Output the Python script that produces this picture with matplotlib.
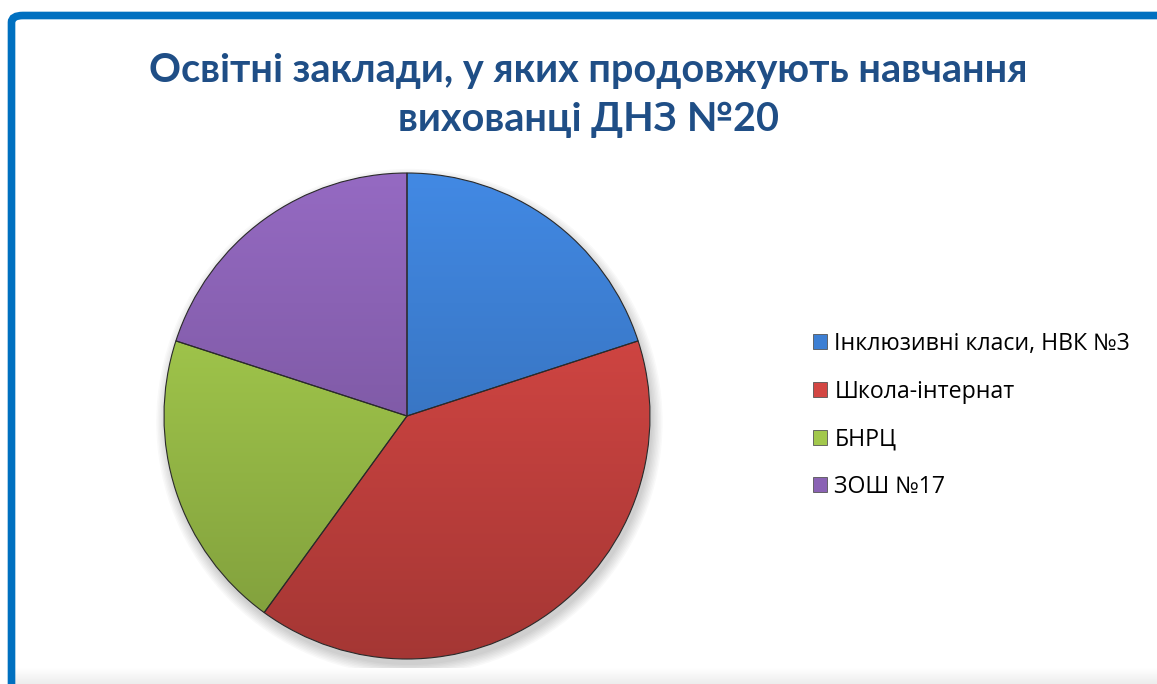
import numpy as np
import matplotlib
matplotlib.use("Agg")
import matplotlib.pyplot as plt
from matplotlib.patches import Patch, FancyBboxPatch
from matplotlib.colors import to_rgb

# data
labels = ["Інклюзивні класи, НВК №3", "Школа-інтернат", "БНРЦ", "ЗОШ №17"]
values = [1, 2, 1, 1]
colors = ["#3d7fd3", "#d34643", "#a2c84c", "#8a62b4"]
title = "Освітні заклади, у яких продовжують навчання\nвихованці ДНЗ №20"

W, H = 1157, 684
fig = plt.figure(figsize=(W / 100, H / 100), dpi=100)
fig.patch.set_facecolor("white")

# blue frame
frame = FancyBboxPatch((11.5 / W, -0.1), 1.2, (H - 15.5) / H + 0.1,
                       boxstyle="round,pad=0,rounding_size=0.01",
                       transform=fig.transFigure, fill=False,
                       edgecolor="#0070c0", linewidth=5.5, clip_on=False)
fig.patches.append(frame)

fig.text(588 / W, 1 - 95 / H, title, ha="center", va="center",
         fontsize=28.5, fontweight="bold", color="#1f4e86",
         family=["Lato", "DejaVu Sans"], linespacing=1.4)

# pie axes, centre at (407, 416) px, radius 243 px
cx, cy, r = 407, 416, 243
half = 260
ax = fig.add_axes([(cx - half) / W, (H - cy - half) / H, 2 * half / W, 2 * half / H])
ax.axis("off")

# soft shadow
for k in range(8):
    sh = plt.Circle((0.01, -0.025), 1.0 + 0.006 * k, color="black",
                    alpha=0.025, zorder=0, lw=0)
    ax.add_patch(sh)

wedges, _ = ax.pie(values, startangle=90, counterclock=False, colors=colors,
                   radius=1.0, wedgeprops=dict(linewidth=0.8, edgecolor="#2a2a2a"))

yy, xx = np.mgrid[-1:1:400j, -1:1:400j]
for w, c in zip(wedges, colors):
    base = np.array(to_rgb(c))
    t = (yy + 1) / 2  # 0 at bottom -> 1 at top
    shade = 0.78 + 0.3 * t
    img = np.clip(base[None, None, :] * shade[..., None], 0, 1)
    im = ax.imshow(img, extent=[-1, 1, -1, 1], origin="lower", zorder=2,
                   interpolation="bilinear")
    im.set_clip_path(w)
    w.set_facecolor("none")
    w.set_zorder(3)

lim = half / r
ax.set_xlim(-lim, lim)
ax.set_ylim(-lim, lim)
ax.set_aspect("equal")

handles = [Patch(facecolor=c, edgecolor="#555555", linewidth=0.6) for c in colors]
leg = fig.legend(handles, labels, loc="upper left",
                 bbox_to_anchor=(813 / W, 1 - 332 / H), frameon=False,
                 prop=dict(family=["Open Sans", "DejaVu Sans"], size=16.7),
                 handlelength=0.62, handleheight=0.62, handletextpad=0.3,
                 labelspacing=1.02, borderaxespad=0, borderpad=0)

# faint grey strip at the bottom
gax = fig.add_axes([15 / W, 0, 1 - 15 / W, 16 / H])
g = np.linspace(1.0, 0.93, 16)[:, None] * np.ones((16, 10))
gax.imshow(np.dstack([g, g, g]), aspect="auto", extent=[0, 1, 0, 1],
           origin="upper", interpolation="bilinear")
gax.axis("off")

fig.savefig("out.png", dpi=100)
